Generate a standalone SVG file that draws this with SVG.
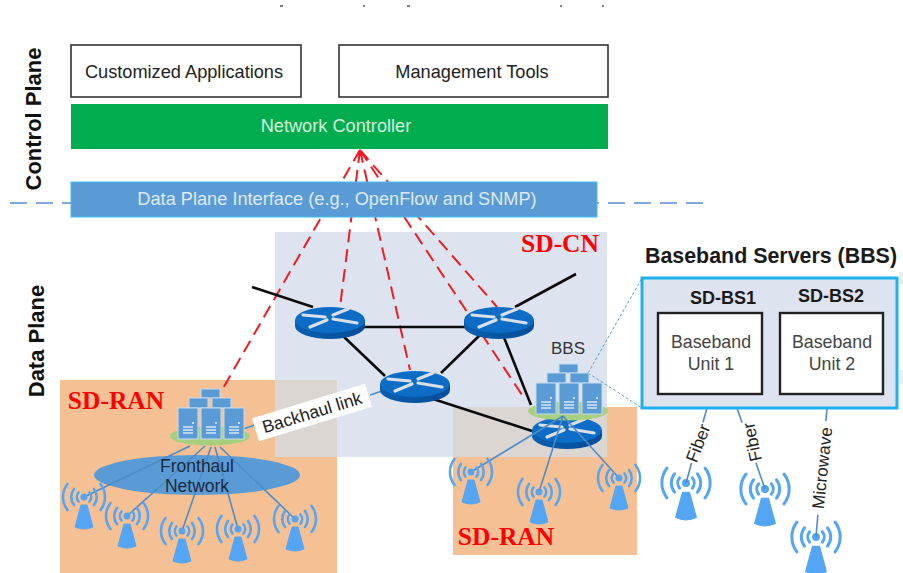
<svg xmlns="http://www.w3.org/2000/svg" xmlns:xlink="http://www.w3.org/1999/xlink" width="903" height="573" viewBox="0 0 903 573">
<style>
text{font-family:"Liberation Sans",Arial,sans-serif;text-anchor:middle}
.box{fill:#fff;stroke:#333;stroke-width:1.6}
.t{font-size:18.2px;fill:#222}
.plane{font-size:22px;font-weight:bold;fill:#111}
.red{font-family:"Liberation Serif","Times New Roman",serif;font-size:25.5px;font-weight:bold;fill:#f00}
.black{stroke:#0c0c0c;stroke-width:2.6;fill:none}
.ctl{stroke:#f01c24;stroke-width:2;stroke-dasharray:13 7;fill:none}
.bl{stroke:#4f8cc6;stroke-width:1.6;fill:none}
.dot{stroke:#5b9bd5;stroke-width:1;stroke-dasharray:3 2;fill:none}
.bold{font-weight:bold;font-size:18px;fill:#1a1a1a}
.unit{font-size:17.8px;fill:#444}
.lab{font-size:17.2px;fill:#222}
.srv{fill:#5b9bd5;stroke:#c4dbf0;stroke-width:1}
.arc{fill:none;stroke:#55a5f5;stroke-width:2.6;stroke-linecap:round}
.rb{stroke:#d8dfe8;stroke-width:3.2;stroke-linecap:round}
</style>
<defs>
<linearGradient id="side" x1="0" x2="1" y1="0" y2="0"><stop offset="0" stop-color="#0a5fb0"/><stop offset="1" stop-color="#064c96"/></linearGradient>
<g id="router">
<path d="M-35-3v6a35 13 0 0 0 70 0v-6z" fill="url(#side)"/>
<ellipse cx="0" cy="-3" rx="35" ry="13" fill="#0c6cc6"/>
<path class="rb" d="M-27-8L-5-6M-20 4L-3-3M3-8L18-14M3-4L27 0"/>
</g>
<g id="antenna">
<path d="M-3 8L3 8L9 30Q0 34-9 30Z" fill="#55a5f5" stroke="#55a5f5" stroke-linejoin="round"/>
<circle r="3.5" fill="#55a5f5"/>
<path class="arc" d="M-5.5-4.5A7 7 0 0 0-5.5 4.5M5.5-4.5A7 7 0 0 1 5.5 4.5M-10-8A13 13 0 0 0-10 8M10-8A13 13 0 0 1 10 8M-16.5-13A21 21 0 0 0-16.5 13M16.5-13A21 21 0 0 1 16.5 13"/>
</g>
<g id="server">
<rect class="srv" width="20" height="31"/>
<path d="M5 19h10M5 22h10M5 25h10" stroke="#d5e5f5" stroke-width="1.4"/>
<circle cx="15" cy="15" r="1" fill="#e8f0f8"/>
</g>
<g id="cluster">
<ellipse rx="40" ry="9.5" fill="#a6d07e"/>
<rect class="srv" x="-9" y="-47" width="19" height="9"/>
<rect class="srv" x="-21" y="-38" width="19" height="10"/>
<rect class="srv" x="2" y="-38" width="19" height="10"/>
<use xlink:href="#server" href="#server" x="-32" y="-28"/>
<use xlink:href="#server" href="#server" x="-9" y="-28"/>
<use xlink:href="#server" href="#server" x="14" y="-28"/>
</g>
</defs>

<rect width="903" height="573" fill="#fff"/>
<path d="M280 6h3M363 6h2M407 6h3M560 6h2M602 6h2" stroke="#556" stroke-width="1.5"/>
<rect x="899" y="272" width="4" height="12" fill="#ececec"/>
<rect x="899" y="370" width="4" height="14" fill="#ececec"/>

<g id="regions">
<rect x="60" y="380" width="277" height="193" fill="#f5c194"/>
<rect x="453" y="407" width="184" height="148" fill="#f5c194"/>
<rect x="275" y="232" width="332" height="225" fill="#dde4f0"/>
<rect x="275" y="380" width="62" height="77" fill="#dcd6d2"/>
<rect x="453" y="407" width="154" height="50" fill="#dcd6d2"/>
<text class="red" x="116" y="409">SD-RAN</text>
<text class="red" x="506" y="545">SD-RAN</text>
<text class="red" x="560" y="252">SD-CN</text>
</g>

<line x1="10" y1="203" x2="707" y2="203" stroke="#7fa9d8" stroke-width="1.8" stroke-dasharray="17 9"/>

<g id="connectors">
<path class="ctl" d="M360 150L222 390M360 150L340 307M360 150L410 370M360 150L522 395M360 150L497 307"/>
<path class="black" d="M252 287L313 307M364 327H465M342 335L385 376M441 373L481 334M503 335L531 405M515 307L576 274M430 398L532 431"/>
<path class="bl" d="M243 429L255 425M370 395L382 391"/>
<path class="dot" d="M588 373L642 278M588 373L642 408"/>
</g>

<g id="plane-labels">
<text class="plane" transform="translate(41 119) rotate(-90)">Control Plane</text>
<text class="plane" transform="translate(44 341) rotate(-90)">Data Plane</text>
</g>

<g id="customized-applications"><rect class="box" x="71" y="45" width="230" height="52"/><text class="t" x="184" y="78">Customized Applications</text></g>
<g id="management-tools"><rect class="box" x="339" y="45" width="269" height="52"/><text class="t" x="472" y="78">Management Tools</text></g>
<g id="network-controller"><rect x="71" y="104" width="537" height="45" fill="#00ad4e"/><text class="t" x="336" y="132" style="fill:#d5f0dc">Network Controller</text></g>
<g id="data-plane-interface"><rect x="71" y="182" width="526" height="35" fill="#5b9bd5" stroke="#3cc0f0" stroke-width="1"/><text class="t" x="337" y="205" style="fill:#dde9f6">Data Plane Interface (e.g., OpenFlow and SNMP)</text></g>

<g id="router-1"><use xlink:href="#router" href="#router" x="330" y="323"/></g>
<g id="router-2"><use xlink:href="#router" href="#router" x="499" y="323"/></g>
<g id="router-3"><use xlink:href="#router" href="#router" x="415" y="387"/></g>
<g id="router-4"><use xlink:href="#router" href="#router" x="567" y="433"/></g>

<g id="bbs-cluster"><use xlink:href="#cluster" href="#cluster" x="568" y="411"/><text class="unit" x="568" y="354" style="font-size:17px;fill:#333">BBS</text></g>
<g id="bbs-links"><path class="bl" d="M563 416L471 472M563 416L539 492M563 416L619 478"/></g>

<g id="fronthaul-network"><ellipse cx="197" cy="475" rx="103" ry="20" fill="#5b9bd5"/></g>
<g id="fronthaul-links"><path class="bl" d="M190 446L84 497M205 446L127 516M211 447L182 531M215 447L238 529M220 447L295 519"/></g>
<g id="fronthaul-label"><text class="t" x="197" y="472" style="fill:#1a2a3a;font-size:17.5px">Fronthaul</text><text class="t" x="197" y="492" style="fill:#1a2a3a;font-size:17.5px">Network</text></g>
<g id="ran-cluster"><use xlink:href="#cluster" href="#cluster" x="210" y="436"/></g>

<g id="backhaul-link"><g transform="translate(312 412.5) rotate(-17)"><rect x="-59" y="-12" width="118" height="24" fill="#fff"/><text class="t" y="6" style="font-size:17.5px">Backhaul link</text></g></g>

<g id="antennas">
<use xlink:href="#antenna" href="#antenna" x="84" y="497"/>
<use xlink:href="#antenna" href="#antenna" x="127" y="516"/>
<use xlink:href="#antenna" href="#antenna" x="182" y="531"/>
<use xlink:href="#antenna" href="#antenna" x="238" y="529"/>
<use xlink:href="#antenna" href="#antenna" x="295" y="519"/>
<use xlink:href="#antenna" href="#antenna" x="471" y="472"/>
<use xlink:href="#antenna" href="#antenna" x="539" y="492"/>
<use xlink:href="#antenna" href="#antenna" x="619" y="478"/>
<use xlink:href="#antenna" href="#antenna" transform="translate(686 483) scale(1.15)"/>
<use xlink:href="#antenna" href="#antenna" transform="translate(765 489) scale(1.15)"/>
<use xlink:href="#antenna" href="#antenna" transform="translate(816 537) scale(1.15)"/>
</g>

<g id="air-links">
<path class="bl" d="M707 408L686 483M737 408L765 489M827 408L816 537"/>
<g transform="translate(698 443) rotate(-69)"><rect x="-21" y="-9" width="42" height="18" fill="#fff"/><text class="lab" y="6">Fiber</text></g>
<g transform="translate(752 442) rotate(-102)"><rect x="-21" y="-9" width="42" height="18" fill="#fff"/><text class="lab" y="6">Fiber</text></g>
<g transform="translate(822 468) rotate(-84)"><rect x="-47" y="-9" width="94" height="18" fill="#fff"/><text class="lab" y="6">Microwave</text></g>
</g>

<g id="baseband-servers">
<text x="771" y="263" style="font-size:21.4px;font-weight:bold;fill:#1a1a1a">Baseband Servers (BBS)</text>
<rect x="642" y="278" width="255" height="130" fill="#dde4f0" stroke="#1fb0ee" stroke-width="3"/>
</g>
<g id="sd-bs1">
<text class="bold" x="723" y="304">SD-BS1</text>
<rect x="658" y="313" width="104" height="81" fill="#fff" stroke="#222" stroke-width="2.4"/>
<text class="unit" x="711" y="348">Baseband</text><text class="unit" x="711" y="370">Unit 1</text>
</g>
<g id="sd-bs2">
<text class="bold" x="831" y="302">SD-BS2</text>
<rect x="780" y="313" width="103" height="81" fill="#fff" stroke="#222" stroke-width="2.4"/>
<text class="unit" x="832" y="348">Baseband</text><text class="unit" x="832" y="370">Unit 2</text>
</g>
</svg>
